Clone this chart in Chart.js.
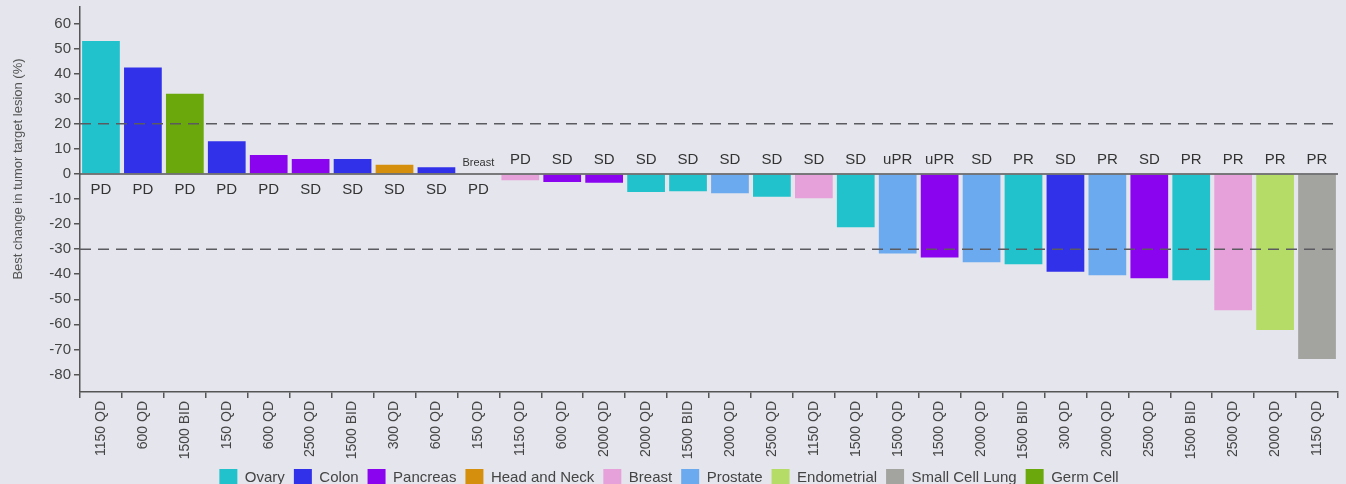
<!DOCTYPE html>
<html>
<head>
<meta charset="utf-8">
<script src="https://cdn.jsdelivr.net/npm/chart.js@4.4.0/dist/chart.umd.min.js"></script>
<style>
  html, body { margin: 0; padding: 0; overflow: hidden; background: #e5e6ed; }
</style>
</head>
<body>
<canvas id="waterfall" width="1346" height="496"></canvas>
<script>
// Best change in target lesion, one bar per patient
const doses = ['1150 QD', '600 QD', '1500 BID', '150 QD', '600 QD', '2500 QD', '1500 BID', '300 QD', '600 QD', '150 QD',
  '1150 QD', '600 QD', '2000 QD', '2000 QD', '1500 BID', '2000 QD', '2500 QD', '1150 QD', '1500 QD', '1500 QD',
  '1500 QD', '2000 QD', '1500 BID', '300 QD', '2000 QD', '2500 QD', '1500 BID', '2500 QD', '2000 QD', '1150 QD'];
const tumors = ['Ovary', 'Colon', 'Germ Cell', 'Colon', 'Pancreas', 'Pancreas', 'Colon', 'Head and Neck', 'Colon', 'Breast',
  'Breast', 'Pancreas', 'Pancreas', 'Ovary', 'Ovary', 'Prostate', 'Ovary', 'Breast', 'Ovary', 'Prostate',
  'Pancreas', 'Prostate', 'Ovary', 'Colon', 'Prostate', 'Pancreas', 'Ovary', 'Breast', 'Endometrial', 'Small Cell Lung'];
const changes = [53, 42.5, 32, 13, 7.6, 6, 6, 3.7, 2.7, 0,
  -2.5, -3.2, -3.5, -7.2, -6.9, -7.7, -9.1, -9.7, -21.3, -31.7,
  -33.3, -35.2, -36, -39, -40.4, -41.6, -42.4, -54.4, -62.3, -73.8];
const responses = ['PD', 'PD', 'PD', 'PD', 'PD', 'SD', 'SD', 'SD', 'SD', 'PD',
  'PD', 'SD', 'SD', 'SD', 'SD', 'SD', 'SD', 'SD', 'SD', 'uPR',
  'uPR', 'SD', 'PR', 'SD', 'PR', 'SD', 'PR', 'PR', 'PR', 'PR'];
const notes = ['', '', '', '', '', '', '', '', '', 'Breast',
  '', '', '', '', '', '', '', '', '', '',
  '', '', '', '', '', '', '', '', '', ''];

const tumorTypes = ['Ovary', 'Colon', 'Pancreas', 'Head and Neck', 'Breast', 'Prostate', 'Endometrial', 'Small Cell Lung', 'Germ Cell'];
const tumorColors = ['#22c2cc', '#3131ea', '#8a04f0', '#d68f0c', '#e6a0da', '#6caaf0', '#b4dc66', '#a3a39f', '#6aa80c'];
const refLines = [20, -30];

Chart.defaults.font.family = "'Liberation Sans', Arial, sans-serif";
Chart.defaults.color = '#444';

const ctx = document.getElementById('waterfall');

// one dataset per tumor type so the legend lists them
const datasets = tumorTypes.map((t, k) => ({
  label: t,
  data: changes.map((v, i) => tumors[i] === t ? v : null),
  backgroundColor: tumorColors[k],
  barPercentage: 0.9,
  categoryPercentage: 1
}));

// zero line, dashed limits, response labels
const extras = {
  id: 'extras',
  afterDatasetsDraw(chart) {
    const c = chart.ctx;
    const x = chart.scales.x, y = chart.scales.y;
    const area = chart.chartArea;
    const y0 = y.getPixelForValue(0);
    c.save();
    c.strokeStyle = '#555';
    c.lineWidth = 1.5;
    c.beginPath();
    c.moveTo(area.left, y0);
    c.lineTo(area.right, y0);
    c.stroke();

    c.strokeStyle = '#5a5a60';
    c.setLineDash([11, 7]);
    refLines.forEach(v => {
      const py = y.getPixelForValue(v);
      c.beginPath();
      c.moveTo(area.left, py);
      c.lineTo(area.right - 3, py);
      c.stroke();
    });
    c.setLineDash([]);

    c.textAlign = 'center';
    c.textBaseline = 'middle';
    c.fillStyle = '#333';
    responses.forEach((r, i) => {
      const px = x.getPixelForValue(i);
      c.font = "15px 'Liberation Sans', Arial";
      c.fillText(r, px, changes[i] >= 0 ? y0 + 16 : y0 - 14);
      if (notes[i]) {
        c.font = "11px 'Liberation Sans', Arial";
        c.fillText(notes[i], px, y0 - 11);
      }
    });

    // y title
    c.translate(18, 169);
    c.rotate(-Math.PI / 2);
    c.font = "13px 'Liberation Sans', Arial";
    c.fillStyle = '#555';
    c.fillText('Best change in tumor target lesion (%)', 0, 0);
    c.restore();
  }
};

new Chart(ctx, {
  type: 'bar',
  data: {
    labels: doses,
    datasets: datasets
  },
  options: {
    responsive: false,
    animation: false,
    layout: { padding: { top: 7, right: 8, left: 0, bottom: 0 } },
    plugins: {
      tooltip: { enabled: false },
      legend: {
        position: 'bottom',
        labels: {
          boxWidth: 18,
          boxHeight: 17,
          padding: 9,
          color: '#444',
          font: { size: 15 }
        }
      }
    },
    scales: {
      x: {
        stacked: true,
        grid: { drawOnChartArea: false, tickLength: 6, color: '#555', lineWidth: 1.5 },
        border: { color: '#555', width: 1.5 },
        ticks: { autoSkip: false, minRotation: 90, maxRotation: 90, padding: 3, color: '#444', font: { size: 14 } },
        afterFit: s => { s.height = 68; }
      },
      y: {
        stacked: true,
        min: -87,
        max: 66.6,
        grid: { drawOnChartArea: false, tickLength: 6, color: '#555', lineWidth: 1.5 },
        border: { color: '#555', width: 1.5 },
        ticks: { stepSize: 10, includeBounds: false, padding: 3, color: '#444', font: { size: 15 } },
        afterFit: s => { s.width = 80; s.paddingTop = 0; s.paddingBottom = 0; }
      }
    }
  },
  plugins: [extras]
});
</script>
</body>
</html>
